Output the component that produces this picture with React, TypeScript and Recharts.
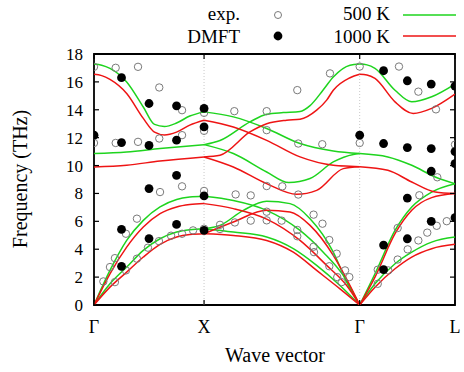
import React from "react"
import { ComposedChart, Line, Scatter, XAxis, YAxis, ReferenceLine, ReferenceArea } from "recharts"

// path: Γ(0) - X(1) - Γ(1+√2) - L(+√3/2)
const kTicks = [0, 1, 2.414, 3.28]
const kLabels = ["Γ", "X", "Γ", "L"]
const freqTicks = [0, 2, 4, 6, 8, 10, 12, 14, 16, 18]

// 500 K branches [q, THz]
const g500 = [
  [[0, 0], [0.145, 1.52], [0.297, 2.72], [0.448, 3.92], [0.6, 4.75], [0.751, 5.23], [0.87, 5.4], [1, 5.47]],
  [[0, 0], [0.145, 2.48], [0.297, 4.63], [0.448, 6.07], [0.6, 7.03], [0.751, 7.56], [0.87, 7.74], [1, 7.8]],
  [[0, 10.86], [0.297, 10.98], [0.6, 11.22], [1, 11.5]],
  [[0, 17.28], [0.07, 17.2], [0.145, 16.97], [0.297, 16.0], [0.448, 14.2], [0.55, 12.95], [0.64, 12.8], [0.75, 13.05], [0.87, 13.55], [1, 13.85]],
  [[1, 13.85], [1.266, 13.49], [1.569, 12.66], [1.872, 11.58], [2.174, 11.05], [2.414, 10.86]],
  [[1, 11.5], [1.145, 11.8], [1.417, 13.13], [1.569, 13.68], [1.72, 13.8], [1.872, 13.88], [1.963, 14.3], [2.08, 15.4], [2.174, 16.35], [2.326, 17.2], [2.414, 17.28]],
  [[1, 11.5], [1.266, 10.86], [1.569, 9.54], [1.77, 8.78], [1.963, 9.07], [2.174, 10.26], [2.356, 10.8], [2.414, 10.86]],
  [[1, 7.8], [1.266, 7.5], [1.569, 6.79], [1.872, 5.35], [2.083, 3.79], [2.265, 2.12], [2.414, 0]],
  [[1, 5.47], [1.145, 5.71], [1.357, 6.79], [1.569, 7.44], [1.781, 7.27], [1.963, 6.19], [2.174, 3.79], [2.296, 1.64], [2.414, 0]],
  [[1, 5.47], [1.266, 5.23], [1.569, 4.87], [1.811, 4.04], [2.023, 2.84], [2.235, 1.4], [2.414, 0]],
  [[2.414, 17.28], [2.48, 17.22], [2.553, 16.97], [2.735, 15.4], [2.887, 14.57], [3.068, 14.93], [3.28, 15.84]],
  [[2.414, 10.86], [2.67, 10.62], [2.887, 10.02], [3.1, 9.18], [3.28, 8.7]],
  [[2.414, 0], [2.553, 2.24], [2.735, 5.35], [2.887, 7.03], [3.068, 8.1], [3.28, 8.7]],
  [[2.414, 0], [2.553, 1.52], [2.735, 2.96], [2.887, 3.79], [3.068, 4.51], [3.28, 4.87]],
]

// 1000 K branches
const r1000 = [
  [[0, 0], [0.145, 1.28], [0.297, 2.36], [0.448, 3.44], [0.6, 4.35], [0.751, 4.87], [0.87, 5.05], [1, 5.11]],
  [[0, 0], [0.145, 2.24], [0.297, 4.15], [0.448, 5.59], [0.6, 6.55], [0.751, 7.03], [0.87, 7.2], [1, 7.27]],
  [[0, 9.9], [0.297, 10.02], [0.6, 10.33], [1, 10.62]],
  [[0, 16.54], [0.07, 16.45], [0.145, 16.18], [0.297, 15.17], [0.448, 13.38], [0.55, 12.4], [0.64, 12.2], [0.75, 12.4], [0.87, 12.9], [1, 13.25]],
  [[1, 13.25], [1.266, 12.77], [1.569, 11.81], [1.872, 10.62], [2.174, 10.02], [2.326, 9.95], [2.414, 9.92]],
  [[1, 10.62], [1.145, 10.74], [1.417, 12.41], [1.569, 13.0], [1.75, 13.25], [1.872, 13.32], [2.023, 13.97], [2.114, 14.69], [2.174, 15.4], [2.326, 16.3], [2.414, 16.55]],
  [[1, 10.62], [1.266, 9.9], [1.569, 8.7], [1.842, 7.94], [2.023, 8.22], [2.265, 9.78], [2.414, 9.92]],
  [[1, 7.27], [1.266, 6.91], [1.569, 6.16], [1.872, 4.63], [2.114, 2.84], [2.296, 1.4], [2.414, 0]],
  [[1, 5.11], [1.266, 5.95], [1.569, 6.79], [1.781, 6.67], [1.963, 5.71], [2.174, 3.56], [2.326, 1.4], [2.414, 0]],
  [[1, 5.11], [1.266, 4.99], [1.569, 4.63], [1.811, 3.79], [2.023, 2.48], [2.235, 1.16], [2.414, 0]],
  [[2.414, 16.55], [2.48, 16.5], [2.553, 16.25], [2.735, 14.57], [2.9, 13.74], [3.068, 14.1], [3.28, 15.12]],
  [[2.414, 9.92], [2.67, 9.66], [2.887, 8.82], [3.1, 8.1], [3.28, 7.99]],
  [[2.414, 0], [2.553, 2.0], [2.735, 5.11], [2.887, 6.79], [3.068, 7.7], [3.28, 7.99]],
  [[2.414, 0], [2.553, 1.28], [2.735, 2.6], [2.887, 3.44], [3.068, 4.04], [3.28, 4.35]],
]

const expData = [
  [0, 17.08], [0.197, 17.01], [0.4, 17.08], [0.593, 15.6], [0.8, 13.97], [1, 13.78],
  [0, 11.62], [0.197, 11.62], [0.4, 11.7], [0.593, 11.94], [0.8, 12.18], [1, 12.49],
  [0.29, 5.11], [0.39, 6.19], [0.6, 8.1], [0.8, 8.51], [1, 8.18],
  [0.085, 1.69], [0.145, 2.72], [0.19, 3.36], [0.19, 1.64], [0.29, 2.48], [0.39, 3.32], [0.49, 4.11],
  [0.59, 4.58], [0.7, 4.97], [0.8, 5.11], [0.9, 5.35], [1, 5.47],
  [1.275, 13.9], [1.569, 13.9], [1.569, 12.54], [1.847, 15.41], [2.144, 16.61], [1.856, 11.58], [2.074, 11.53],
  [1.287, 7.93], [1.424, 7.86], [1.569, 8.53], [1.711, 8.51], [1.856, 7.92],
  [1.145, 5.75], [1.145, 5.45], [1.28, 5.92], [1.424, 6.05], [1.569, 6.07], [1.705, 6.05], [1.569, 6.69],
  [1.847, 5.38], [1.847, 4.93], [1.995, 6.48], [2.076, 5.83], [1.995, 4.18], [1.999, 3.79], [2.138, 4.66],
  [2.205, 3.68], [2.138, 2.78], [2.281, 2.48], [2.21, 2.0], [2.32, 2.0], [2.25, 1.64],
  [2.414, 17.1], [2.414, 11.62],
  [2.771, 17.1], [2.947, 15.3], [3.107, 14.03], [3.28, 11.5], [3.119, 9.16], [2.956, 7.87],
  [3.205, 6.01], [3.114, 5.68], [3.028, 5.19], [2.947, 4.63], [2.85, 3.99], [2.759, 5.52], [2.759, 3.26],
  [2.674, 2.48], [2.578, 2.53], [2.578, 1.52],
]

const dmftData = [
  [0, 12.18],
  [0.25, 16.3], [0.25, 11.65], [0.25, 5.42], [0.25, 2.77],
  [0.5, 14.45], [0.5, 11.44], [0.5, 8.35], [0.5, 4.76],
  [0.75, 14.28], [0.75, 11.82], [0.75, 9.3], [0.75, 5.78],
  [1, 14.1], [1, 12.77], [1, 7.82], [1, 5.35],
  [2.414, 12.18],
  [2.631, 16.8], [2.631, 11.58], [2.631, 4.3], [2.631, 2.53],
  [2.847, 16.08], [2.847, 11.29], [2.847, 7.67], [2.847, 4.75],
  [3.064, 15.84], [3.064, 11.22], [3.064, 9.59], [3.064, 6.0],
  [3.28, 15.7], [3.28, 11.0], [3.28, 10.14], [3.28, 6.26],
]

const GREEN = "#1ed41e"
const RED = "#ee1414"
const FONT = "'Liberation Serif', 'DejaVu Serif', serif"

// plot box edges (px)
const PL = 94
const PR = 455
const PT = 54
const PB = 305

const pts = (arr: number[][]) => arr.map(([q, f]) => ({ q, f }))

const YTick = (p: any) => (
  <g>
    <text x={83} y={p.y + 6} textAnchor="end" fontSize={17} fontFamily={FONT} fill="#000">{p.payload.value}</text>
    <line x1={PL} x2={PL + 5} y1={p.y} y2={p.y} stroke="#000" strokeWidth={1.2} />
    <line x1={PR} x2={PR - 5} y1={p.y} y2={p.y} stroke="#000" strokeWidth={1.2} />
  </g>
)

const XTick = (p: any) => {
  const i = kTicks.indexOf(p.payload.value)
  return (
    <g>
      <text x={p.x} y={333} textAnchor="middle" fontSize={18} fontFamily={FONT} fill="#000">{kLabels[i]}</text>
      <line x1={p.x} x2={p.x} y1={PB} y2={PB - 5} stroke="#000" strokeWidth={1.2} />
      <line x1={p.x} x2={p.x} y1={PT} y2={PT + 5} stroke="#000" strokeWidth={1.2} />
    </g>
  )
}

const OpenDot = (p: any) => <circle cx={p.cx} cy={p.cy} r={3.7} fill="none" stroke="#7a7a7a" strokeWidth={1} />
const FullDot = (p: any) => <circle cx={p.cx} cy={p.cy} r={4.4} fill="#000" />

export default function App() {
  return (
    <div style={{ position: "absolute", left: 0, top: 0, width: 464, height: 372, background: "#fff", fontFamily: FONT }}>
      <ComposedChart width={464} height={372} margin={{ top: PT, right: 464 - PR, bottom: 0, left: 0 }}>
        <XAxis type="number" dataKey="q" domain={[0, 3.28]} ticks={kTicks} interval={0} height={372 - PB}
          axisLine={false} tickLine={false} tick={<XTick />} allowDataOverflow />
        <YAxis type="number" dataKey="f" domain={[0, 18]} ticks={freqTicks} interval={0} width={PL}
          axisLine={false} tickLine={false} tick={<YTick />} allowDataOverflow />
        <ReferenceLine x={1} stroke="#c8c8c8" strokeDasharray="1 2" />
        <ReferenceLine x={2.414} stroke="#c8c8c8" strokeDasharray="1 2" />
        {g500.map((b, i) => (
          <Line key={"g" + i} data={pts(b)} dataKey="f" type="monotone" stroke={GREEN} strokeWidth={1.5} dot={false} isAnimationActive={false} />
        ))}
        {r1000.map((b, i) => (
          <Line key={"r" + i} data={pts(b)} dataKey="f" type="monotone" stroke={RED} strokeWidth={1.5} dot={false} isAnimationActive={false} />
        ))}
        <Scatter data={pts(expData)} dataKey="f" shape={OpenDot} isAnimationActive={false} />
        <Scatter data={pts(dmftData)} dataKey="f" shape={FullDot} isAnimationActive={false} />
        <ReferenceArea x1={0} x2={3.28} y1={0} y2={18} fill="none" stroke="#000" strokeWidth={1.8} fillOpacity={0} />
      </ComposedChart>
      <svg width={464} height={372} style={{ position: "absolute", left: 0, top: 0, pointerEvents: "none" }} fontFamily={FONT}>
        <text x={240} y={20} textAnchor="end" fontSize={19}>exp.</text>
        <circle cx={278} cy={15} r={3.5} fill="none" stroke="#7a7a7a" strokeWidth={1} />
        <text x={390} y={20} textAnchor="end" fontSize={19}>500 K</text>
        <line x1={403} x2={456} y1={15} y2={15} stroke={GREEN} strokeWidth={1.5} />
        <text x={240} y={43} textAnchor="end" fontSize={19}>DMFT</text>
        <circle cx={278} cy={36} r={4.4} fill="#000" />
        <text x={390} y={43} textAnchor="end" fontSize={19}>1000 K</text>
        <line x1={403} x2={456} y1={36} y2={36} stroke={RED} strokeWidth={1.5} />
        <text x={275} y={362} textAnchor="middle" fontSize={20}>Wave vector</text>
        <text transform="translate(27,179) rotate(-90)" textAnchor="middle" fontSize={20}>Frequency (THz)</text>
      </svg>
    </div>
  )
}
